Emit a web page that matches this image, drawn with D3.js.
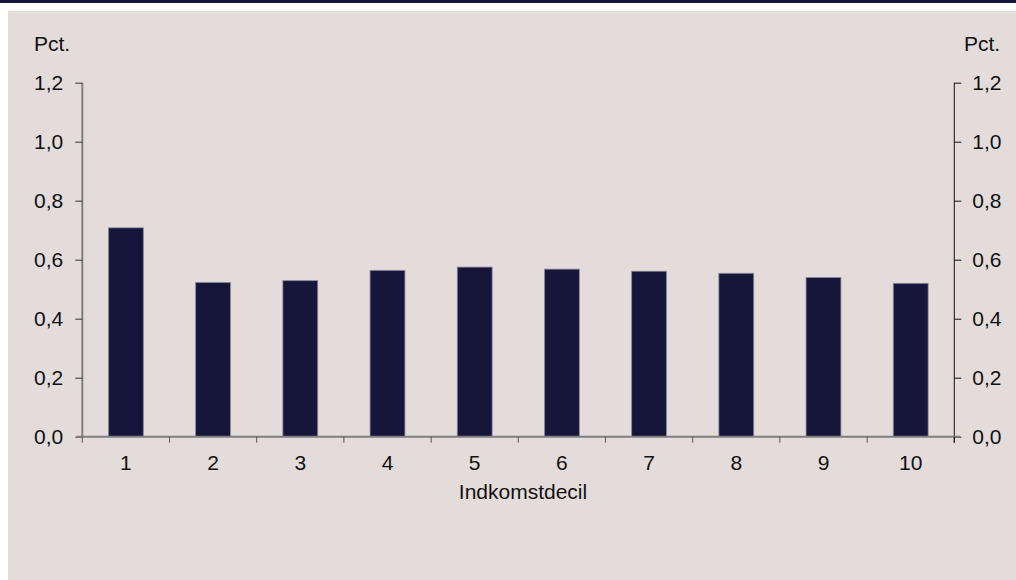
<!DOCTYPE html>
<html>
<head>
    <meta charset="utf-8">
    <script src="https://d3js.org/d3.v7.min.js"></script>
    <style>
        body { margin: 0; background: #ffffff; }
        svg text {
            font-family: "Liberation Sans", Arial, sans-serif;
            font-size: 21px;
            fill: #111;
        }
    </style>
    <title>Indkomstdecil</title>
</head>
<body>
    <svg width="1016" height="580"></svg>
    <script>
        // data
        var deciles = ["1", "2", "3", "4", "5", "6", "7", "8", "9", "10"];
        var values = [0.708, 0.523, 0.529, 0.564, 0.575, 0.568, 0.561, 0.554, 0.540, 0.520];
        var yTicks = [0, 0.2, 0.4, 0.6, 0.8, 1.0, 1.2];
        var unitLabel = "Pct.";
        var xTitle = "Indkomstdecil";

        var svg = d3.select("svg");

        // frame: top band + grey panel
        svg.append("rect").attr("x", 0).attr("y", 0).attr("width", 1016).attr("height", 3).attr("fill", "#15163a");
        svg.append("rect").attr("x", 8).attr("y", 11).attr("width", 1008).attr("height", 569).attr("fill", "#e3dcdb");

        var plotLeft = 82.3, plotRight = 954.3, plotTop = 82.7, plotBottom = 436.7;

        var x = d3.scaleBand().domain(deciles).range([plotLeft, plotRight]).paddingInner(0.6).paddingOuter(0.3);
        var y = d3.scaleLinear().domain([0, 1.2]).range([plotBottom, plotTop]);
        var fmt = function (d) { return d3.format(".1f")(d).replace(".", ","); };

        // bars
        svg.selectAll(".bar")
            .data(values)
            .enter()
            .append("rect")
            .attr("class", "bar")
            .attr("x", function (d, i) { return x(deciles[i]); })
            .attr("y", function (d) { return y(d); })
            .attr("width", x.bandwidth())
            .attr("height", function (d) { return plotBottom - y(d); })
            .attr("fill", "#15163a")
            .attr("stroke", "#8d8aa0")
            .attr("stroke-width", 0.8);

        // left axis
        var gl = svg.append("g").attr("transform", "translate(" + plotLeft + ",0)")
            .call(d3.axisLeft(y).tickValues(yTicks).tickFormat(fmt).tickSize(7).tickPadding(12));
        gl.select(".domain").attr("stroke", "#7f7f7f").attr("stroke-width", 2).attr("d", "M0," + plotTop + "V" + plotBottom);
        gl.selectAll(".tick line").attr("stroke", "#333");
        gl.selectAll(".tick text").attr("font-size", null).attr("font-family", null);

        // right axis
        var gr = svg.append("g").attr("transform", "translate(" + plotRight + ",0)")
            .call(d3.axisRight(y).tickValues(yTicks).tickFormat(fmt).tickSize(7).tickPadding(11));
        gr.select(".domain").attr("stroke", "#111").attr("stroke-width", 1).attr("d", "M0," + plotTop + "V" + (plotBottom + 6));
        gr.selectAll(".tick line").attr("stroke", "#111");
        gr.selectAll(".tick text").attr("font-size", null).attr("font-family", null);

        // x axis (ticks between categories)
        var step = x.step();
        var gx = svg.append("g").attr("transform", "translate(0," + plotBottom + ")");
        gx.append("line").attr("x1", plotLeft - 6).attr("x2", plotRight + 6).attr("y1", 0).attr("y2", 0)
            .attr("stroke", "#7f7f7f").attr("stroke-width", 2);
        gx.selectAll(".xt")
            .data(d3.range(deciles.length + 1))
            .enter()
            .append("line")
            .attr("class", "xt")
            .attr("x1", function (i) { return plotLeft + i * step; })
            .attr("x2", function (i) { return plotLeft + i * step; })
            .attr("y1", 0).attr("y2", 6)
            .attr("stroke", function (i) { return i === deciles.length ? "#111" : "#555"; });
        gx.selectAll(".xl")
            .data(deciles)
            .enter()
            .append("text")
            .attr("class", "xl")
            .attr("x", function (d) { return x(d) + x.bandwidth() / 2; })
            .attr("y", 33)
            .attr("text-anchor", "middle")
            .text(function (d) { return d; });

        // titles
        svg.append("text").attr("x", 523).attr("y", 499).attr("text-anchor", "middle").text(xTitle);
        svg.append("text").attr("x", 34).attr("y", 51).text(unitLabel);
        svg.append("text").attr("x", 964).attr("y", 51).text(unitLabel);
    </script>
</body>
</html>
